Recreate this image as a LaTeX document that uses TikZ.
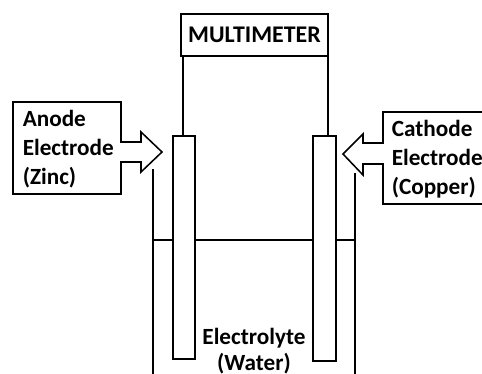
\documentclass[tikz,border=0pt]{standalone}
\usepackage{fontspec}
\setmainfont{Carlito}
\tikzset{
  box/.style={draw, inner sep=0pt},
  label/.style={align=left, font=\fontsize{16.5}{20.5}\selectfont\bfseries, inner sep=0pt},
}
\begin{document}
\begin{tikzpicture}[x=0.025cm, y=-0.025cm, line width=1.1pt]
\useasboundingbox (0,0) rectangle (482,374);
\node[box, minimum width=147*0.025cm, minimum height=42*0.025cm, font=\fontsize{17}{20}\selectfont\bfseries] (multimeter) at (254.5,35) {MULTIMETER};
\node[box, minimum width=22*0.025cm, minimum height=223*0.025cm] (anode) at (184,247.5) {};
\node[box, minimum width=23*0.025cm, minimum height=225*0.025cm] (cathode) at (324.5,248.5) {};
% wires up to the meter
\coordinate (wirea) at (183,136);
\coordinate (wirec) at (328,136);
\draw (wirea) -- (wirea |- multimeter.south);
\draw (wirec) -- (wirec |- multimeter.south);
% tank and water level
\coordinate (tankl) at (153,169);
\coordinate (tankr) at (355,173);
\draw (tankl) -- (tankl |- 0,376);
\draw (tankr) -- (tankr |- 0,376);
\draw (tankl |- 0,240) -- (anode.west |- 0,240);
\draw (anode.east |- 0,240) -- (cathode.west |- 0,240);
\draw (cathode.east |- 0,240) -- (tankr |- 0,240);
% callouts
\draw (13,102) -- (121,102) -- (121,142) -- (141,142) -- (141,132) -- (162,152) -- (141,172) -- (141,162) -- (121,162) -- (121,194) -- (13,194) -- cycle;
\draw (484,112) -- (383,112) -- (383,143) -- (363,143) -- (363,134) -- (343,154) -- (363,175) -- (363,164) -- (383,164) -- (383,204) -- (484,204);
\node[label, anchor=west] (anodetext) at (22,149) {Anode\\Electrode\\(Zinc)};
\node[label, anchor=west] (cathodetext) at (391,159) {Cathode\\Electrode\\(Copper)};
\node[label, align=center, font=\fontsize{16.5}{18}\selectfont\bfseries] (water) at (254,351) {Electrolyte\\(Water)};
\end{tikzpicture}
\end{document}
